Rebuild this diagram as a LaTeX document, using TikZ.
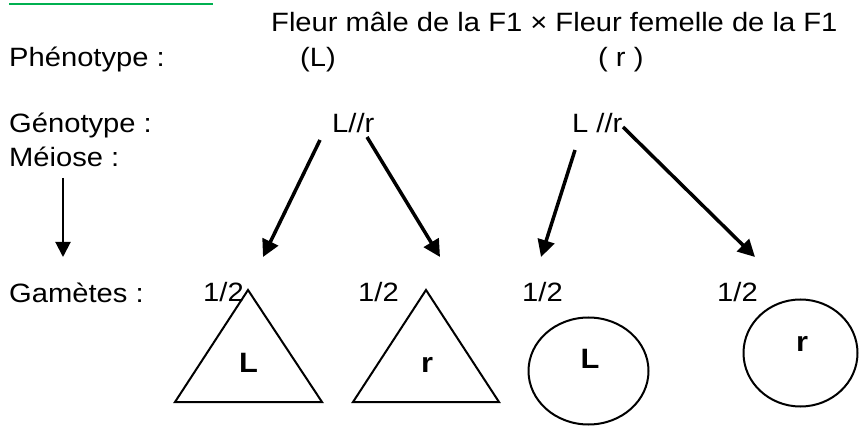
\documentclass[tikz,border=0pt]{standalone}
\usepackage{fontspec}
\setmainfont{Liberation Sans}[FakeStretch=1.1]
\usetikzlibrary{arrows.meta,shapes.geometric}
\definecolor{linegreen}{RGB}{0,176,80}
\begin{document}
\begin{tikzpicture}[x=1pt,y=-1pt,
  txt/.style={anchor=base west,inner sep=0pt,font=\fontsize{26.5}{30}\selectfont},
  lbl/.style={anchor=base,inner sep=0pt,font=\fontsize{28}{32}\selectfont\bfseries},
  bigarrow/.style={line width=3.5pt,-{Triangle[length=17pt,width=17pt]}},
  thinarrow/.style={line width=2pt,-{Triangle[length=15pt,width=15pt]}},
  outline/.style={line width=2pt},
  gamcircle/.style={ellipse,draw,line width=2pt,inner sep=0pt}]
\useasboundingbox (0,0) rectangle (859,427);
% green rule
\coordinate (gA) at (9,4);
\coordinate (gB) at (213,4);
\draw[linegreen,line width=2.5pt] (gA) -- (gB);
% texts
\node[txt] (cross) at (271,32) {Fleur mâle de la F1 × Fleur femelle de la F1};
\node[txt] (pheno) at (9,67) {Phénotype :};
\node[txt] (phL) at (300,67) {(L)};
\node[txt] (phr) at (598,67) {( r )};
\node[txt] (geno) at (9,133) {Génotype :};
\node[txt] (genoM) at (332,133) {L//r};
\node[txt] (genoF) at (572,133) {L //r};
\node[txt] (meiose) at (9,167) {Méiose :};
\node[txt] (gam) at (9,303) {Gamètes :};
\node[txt] (p1) at (203,302) {1/2};
\node[txt] (p2) at (358,302) {1/2};
\node[txt] (p3) at (522,302) {1/2};
\node[txt] (p4) at (717,302) {1/2};
% meiosis arrow
\coordinate (mA) at (63,178);
\coordinate (mB) at (63,257);
\draw[thinarrow] (mA) -- (mB);
% genotype arrows
\coordinate (s1) at (320,140);
\coordinate (e1) at (263,257);
\coordinate (s2) at (367,137);
\coordinate (e2) at (440,257);
\coordinate (s3) at (575,150);
\coordinate (e3) at (541,257);
\coordinate (s4) at (623,127);
\coordinate (e4) at (755,257);
\draw[bigarrow] (s1) -- (e1);
\draw[bigarrow] (s2) -- (e2);
\draw[bigarrow] (s3) -- (e3);
\draw[bigarrow] (s4) -- (e4);
% gametes: triangles
\draw[outline,line join=miter] (248,290) -- (322,402) -- (175,402) -- cycle;
\node[lbl] (t1) at (248.5,372) {L};
\draw[outline,line join=miter] (426,290) -- (499,402) -- (353,402) -- cycle;
\node[lbl] (t2) at (427,372) {r};
% gametes: circles
\node[gamcircle,minimum width=120pt,minimum height=107pt] (c1) at (588.5,371) {};
\node[lbl] (c1l) at (590,369) {L};
\node[gamcircle,minimum width=114pt,minimum height=107pt] (c2) at (800.5,353) {};
\node[lbl] (c2l) at (802,352) {r};
\end{tikzpicture}
\end{document}
